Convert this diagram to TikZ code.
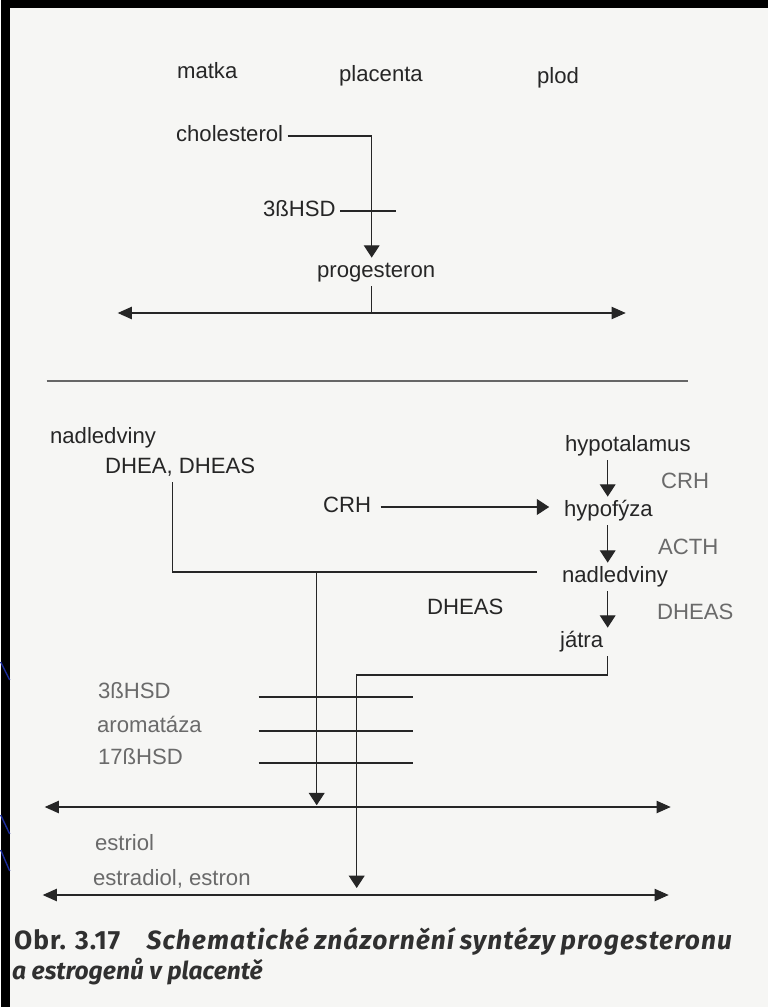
\documentclass[tikz,border=0pt]{standalone}
\usepackage{fontspec}
\newfontfamily\lblfont{Liberation Sans}
\newfontfamily\capfont{Fira Sans}[LetterSpace=4]
\newfontfamily\capfontb{Fira Sans}
\usetikzlibrary{arrows.meta,calc}
\definecolor{ink}{HTML}{262626}
\definecolor{faded}{HTML}{6A6A6A}
\definecolor{paper}{HTML}{F6F6F4}
\definecolor{capcol}{HTML}{303030}
\definecolor{slideblue}{HTML}{1C2C9C}

\begin{document}
\begin{tikzpicture}[x=0.02cm, y=-0.02cm,
    lbl/.style={inner sep=0pt, outer sep=2.5pt, anchor=west, text height=8.8pt,
        text depth=2.6pt, font=\lblfont\fontsize{12.6}{14}\selectfont, text=ink},
    dim/.style={lbl, text=faded},
    link/.style={draw=ink, line width=0.6pt},
    arr/.style={link, -{Triangle[length=7pt,width=9pt]}},
    dbl/.style={link, {Triangle[length=8pt,width=7pt]}-{Triangle[length=8pt,width=7pt]}}]
    % page and the dark slide edge
    \fill[paper] (0,0) rectangle (767,1007);
    \fill[black] (0,0) rectangle (767,8);
    \fill[black] (0,0) rectangle (9,1007);
    \draw[slideblue, line width=0.8pt] (0,662) -- (9,680);
    \draw[slideblue, line width=0.8pt] (0,815) -- (9,834);
    \draw[slideblue, line width=0.8pt] (0,850) -- (9,871);
    \useasboundingbox (0,0) rectangle (767,1007);

    % progesteron
    \node[lbl] (matka) at (172,73) {matka};
    \node[lbl] (placenta) at (334,76) {placenta};
    \node[lbl] (plod) at (532,78) {plod};
    \node[lbl] (chol) at (171,136) {cholesterol};
    \node[lbl] (hsdA) at (258,211) {3ßHSD};
    \node[lbl] (prog) at (312,272) {progesteron};
    \coordinate (pcol) at (371,0);
    \coordinate (mL) at (117,313);
    \coordinate (mR) at (625,313);
    \draw[arr] (chol.east) -| (prog.north -| pcol);
    \draw[link] (hsdA.east) -- ++(56,0);
    \draw[link] (prog.south -| pcol) -- (pcol |- mL);
    \draw[dbl] (mL) -- (mR);

    \coordinate (sL) at (46,381);
    \coordinate (sR) at (687,381);
    \draw[draw=black!60, line width=1pt] (sL) -- (sR);

    % estrogeny
    \node[lbl] (nadL) at (45,438) {nadledviny};
    \node[lbl] (dhea) at (100,468) {DHEA, DHEAS};
    \node[lbl] (hypo) at (560,446) {hypotalamus};
    \node[dim] (crhR) at (656,483) {CRH};
    \node[lbl] (crhL) at (318,507) {CRH};
    \node[lbl] (hypf) at (559,511) {hypofýza};
    \node[dim] (acth) at (653,549) {ACTH};
    \node[lbl] (nadR) at (557,577) {nadledviny};
    \node[lbl] (dheasM) at (422,609) {DHEAS};
    \node[dim] (dheasR) at (652,614) {DHEAS};
    \node[lbl] (jatra) at (555,642) {játra};

    \coordinate (hcol) at (607,0);
    \foreach \a/\b in {hypo/hypf, hypf/nadR, nadR/jatra}
        \draw[arr] (\a.south -| hcol) -- (\b.north -| hcol);
    \draw[arr, shorten <=3pt, shorten >=6pt] (crhL.east) -- (crhL.east -| hypf.west);

    \coordinate (dk) at (172,572);
    \coordinate (dEnd) at (536,572);
    \coordinate (eA) at (316,572);
    \coordinate (jk) at (356,675);
    \coordinate (aL) at (44,807);
    \coordinate (aR) at (670,807);
    \coordinate (bL) at (42,895);
    \coordinate (bR) at (668,895);
    \draw[link] (dhea.south -| dk) |- (dEnd);
    \draw[arr, shorten >=1pt] (eA) -- (eA |- aL);
    \draw[arr, shorten >=4pt] (jatra.south -| hcol) |- (jk) -- (jk |- bL);

    \node[dim] (hsdB) at (93,693) {3ßHSD};
    \node[dim] (arom) at (92,727) {aromatáza};
    \node[dim] (hsdC) at (93,759) {17ßHSD};
    \coordinate (tA) at (258,0);
    \coordinate (tB) at (412,0);
    \foreach \n in {hsdB, arom, hsdC}
        \draw[link] ($(\n.east -| tA)+(0,4)$) -- ($(\n.east -| tB)+(0,4)$);
    \draw[dbl] (aL) -- (aR);

    \node[dim] (estriol) at (90,845) {estriol};
    \node[dim] (estradiol) at (88,880) {estradiol, estron};
    \draw[dbl] (bL) -- (bR);

    % caption
    \node[anchor=base west, inner sep=0pt, text=capcol,
        font=\capfont\bfseries\fontsize{15}{18}\selectfont] (cap1) at (13,949)
        {\makebox[14.36cm][s]{Obr. 3.17\quad \itshape Schematické znázornění syntézy progesteronu}};
    \node[anchor=base west, inner sep=0pt, text=capcol,
        font=\capfontb\bfseries\itshape\fontsize{14}{17}\selectfont] (cap2) at (11,979)
        {a estrogenů v placentě};
\end{tikzpicture}
\end{document}
